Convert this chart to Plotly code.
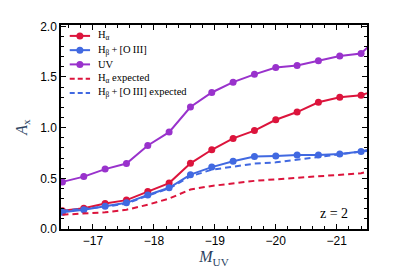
import plotly.graph_objects as go

# Data
m_uv = [-16.5, -16.85, -17.2, -17.55, -17.9, -18.25, -18.6, -18.95, -19.3,
        -19.65, -20.0, -20.35, -20.7, -21.05, -21.4, -21.75]
a_halpha = [0.18, 0.205, 0.251, 0.285, 0.369, 0.453, 0.648, 0.782, 0.894,
            0.971, 1.078, 1.154, 1.250, 1.299, 1.320, 1.39]
a_hbeta_oiii = [0.165, 0.191, 0.225, 0.258, 0.335, 0.407, 0.536, 0.611, 0.669,
                0.715, 0.720, 0.729, 0.729, 0.741, 0.764, 0.82]
a_uv = [0.465, 0.517, 0.591, 0.646, 0.824, 0.956, 1.204, 1.347, 1.449,
        1.526, 1.593, 1.614, 1.660, 1.706, 1.731, 1.93]
a_halpha_exp = [0.141, 0.150, 0.165, 0.19, 0.24, 0.30, 0.39, 0.425, 0.45,
                0.475, 0.49, 0.505, 0.52, 0.535, 0.55, 0.60]
a_hbeta_oiii_exp = [0.18, 0.20, 0.22, 0.25, 0.33, 0.40, 0.52, 0.585, 0.615,
                    0.645, 0.658, 0.683, 0.704, 0.729, 0.756, 0.79]

series_names = ["H<sub>α</sub>", "H<sub>β</sub>\u2009+\u2009[O\u2009III]", "UV",
                "H<sub>α</sub> expected",
                "H<sub>β</sub>\u2009+\u2009[O\u2009III] expected"]

RED = "#DC143C"
BLUE = "#4169E1"
PURPLE = "#9932CC"
SERIF = "Liberation Serif"
SANS = "Liberation Sans"
DASH = "6px,4px"

series = [
    (a_halpha, RED, True),
    (a_hbeta_oiii, BLUE, True),
    (a_uv, PURPLE, True),
    (a_halpha_exp, RED, False),
    (a_hbeta_oiii_exp, BLUE, False),
]

fig = go.Figure()
for (vals, col, solid), name in zip(series, series_names):
    if solid:
        fig.add_trace(go.Scatter(x=m_uv, y=vals, mode="lines+markers", name=name,
                                 line=dict(color=col, width=2),
                                 marker=dict(color=col, size=7), showlegend=False))
    else:
        fig.add_trace(go.Scatter(x=m_uv, y=vals, mode="lines", name=name,
                                 line=dict(color=col, width=2, dash=DASH),
                                 showlegend=False))

# Hand-drawn legend (matplotlib-like compact spacing)
L, T, W, H = 43, 14, 316, 219
def px_x(p):
    return (p - L) / W
def px_y(p):
    return (T + H - p) / H

row0, row_step = 25.7, 15.3
for i, ((vals, col, solid), name) in enumerate(zip(series, series_names)):
    yc = px_y(row0 + row_step * i)
    fig.add_shape(type="line", xref="paper", yref="paper",
                  x0=px_x(52), x1=px_x(73), y0=yc, y1=yc,
                  line=dict(color=col, width=2, dash="solid" if solid else "5px,3px"))
    if solid:
        fig.add_shape(type="circle", xref="paper", yref="paper",
                      xsizemode="pixel", ysizemode="pixel",
                      xanchor=px_x(62.5), yanchor=yc,
                      x0=-3.5, x1=3.5, y0=-3.5, y1=3.5,
                      fillcolor=col, line=dict(color=col, width=0))
    fig.add_annotation(text=name, xref="paper", yref="paper",
                       x=px_x(79), y=yc, xanchor="left", yanchor="middle",
                       showarrow=False,
                       font=dict(family=SERIF, size=10.5, color="black"))

axis_common = dict(showline=True, linecolor="black", linewidth=1.5, mirror="allticks",
                   ticks="inside", ticklen=5, tickwidth=1.2, tickcolor="black",
                   showgrid=False, zeroline=False,
                   tickfont=dict(family=SANS, size=12, color="black"))

fig.update_xaxes(range=[-16.476, -21.497], dtick=1, tick0=-17,
                 minor=dict(dtick=0.2, tick0=-17, ticks="inside", ticklen=3,
                            tickcolor="black", tickwidth=1),
                 title=dict(text="<i>M</i><sub>UV</sub>", font=dict(family=SERIF, size=16),
                            standoff=3),
                 **axis_common)
fig.update_yaxes(range=[0, 2.013], dtick=0.5, tick0=0, tickformat=".1f",
                 minor=dict(dtick=0.1, tick0=0, ticks="inside", ticklen=3,
                            tickcolor="black", tickwidth=1),
                 title=dict(text="<i>A</i><sub>x</sub>", font=dict(family=SERIF, size=16),
                            standoff=9),
                 **axis_common)

fig.add_annotation(text="z = 2", xref="paper", yref="paper", x=0.946, y=0.074,
                   xanchor="right", yanchor="middle", showarrow=False,
                   font=dict(family=SERIF, size=14, color="black"))

fig.update_layout(width=399, height=266,
                  margin=dict(l=L, r=399 - L - W, t=T, b=266 - T - H),
                  plot_bgcolor="white", paper_bgcolor="white",
                  showlegend=False)

fig.write_html("out.html")
